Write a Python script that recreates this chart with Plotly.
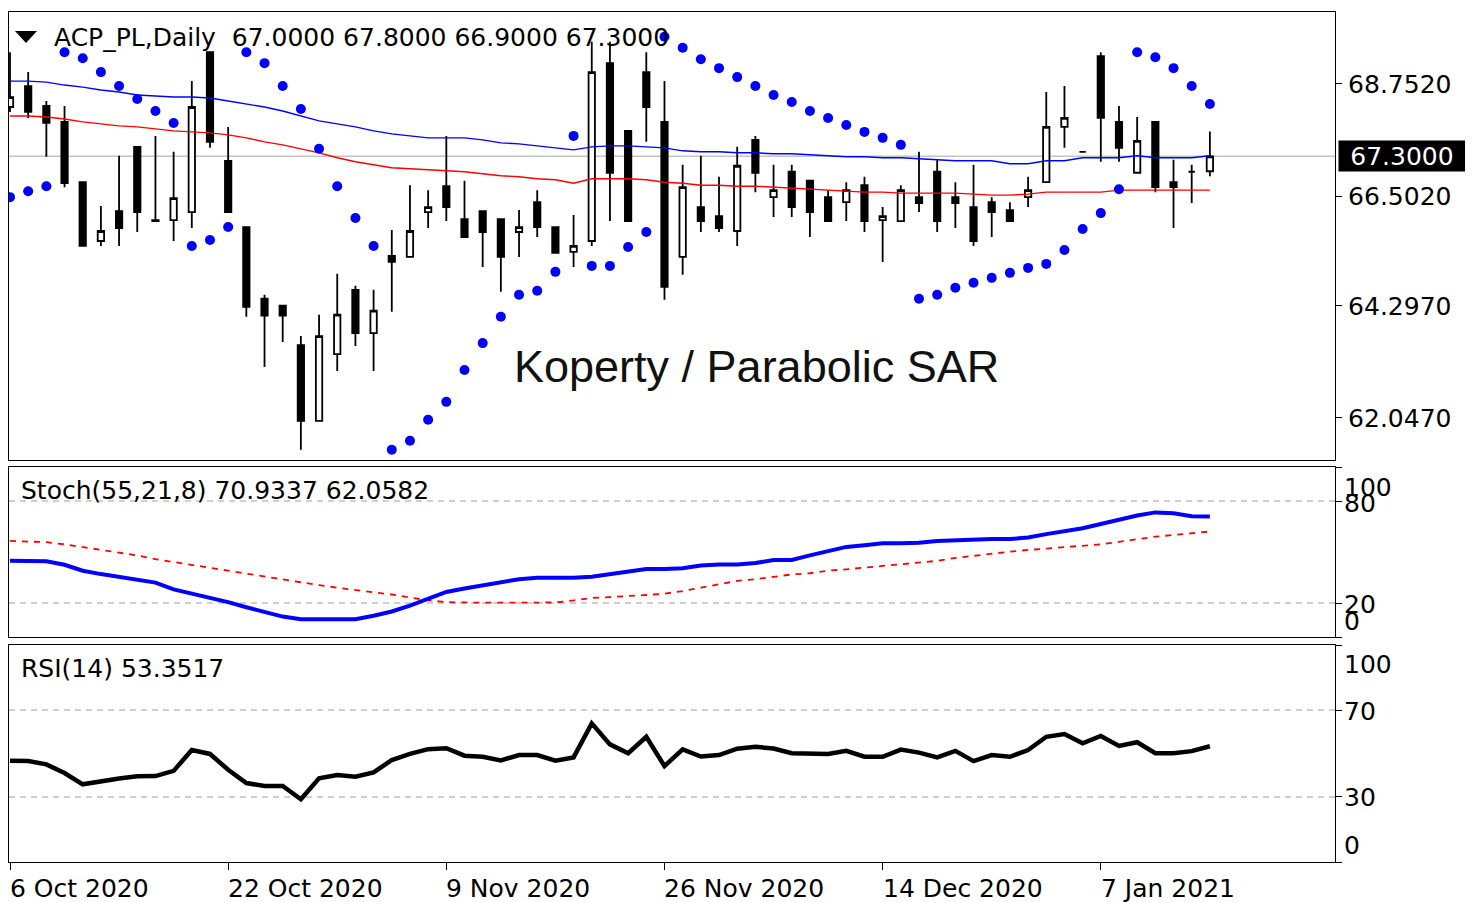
import plotly.graph_objects as go

# ---------------- data ----------------
opens = [68.29, 68.71, 68.31, 67.99, 66.78, 65.60, 66.20, 67.49, 66.02, 66.02,
         66.18, 69.39, 67.21, 65.88, 64.44, 64.30, 63.51, 61.99, 63.33, 64.62,
         63.75, 65.30, 65.28, 66.18, 66.70, 66.04, 66.20, 66.04, 65.78, 66.38,
         65.88, 65.38, 65.60, 69.17, 67.81, 68.99, 67.99, 65.28, 66.28, 66.10,
         65.80, 67.63, 66.48, 66.99, 66.81, 66.48, 66.38, 66.72, 66.02, 66.00,
         66.48, 66.99, 66.48, 66.28, 66.38, 66.22, 66.48, 66.78, 67.89, 67.39,
         69.31, 67.99, 66.97, 67.99, 66.78, 66.99, 67.00]
highs = [69.39, 68.99, 68.41, 68.31, 66.80, 66.30, 67.31, 67.49, 67.71, 67.39,
         68.81, 69.40, 67.89, 65.89, 64.52, 64.30, 63.69, 64.12, 64.94, 64.70,
         64.62, 65.82, 66.72, 66.62, 67.71, 66.81, 66.21, 66.05, 66.22, 66.62,
         65.89, 66.12, 69.60, 69.60, 67.81, 69.39, 68.81, 67.13, 67.31, 66.89,
         67.49, 67.71, 67.13, 67.13, 66.81, 66.62, 66.78, 66.89, 66.28, 66.72,
         67.39, 67.23, 66.78, 67.13, 66.48, 66.38, 66.89, 68.59, 68.71, 67.40,
         69.39, 68.31, 68.09, 67.99, 67.23, 67.13, 67.80]
lows = [68.19, 68.07, 67.29, 66.68, 65.49, 65.50, 65.50, 65.78, 66.00, 65.60,
        65.86, 67.47, 66.18, 64.08, 63.07, 63.57, 61.41, 61.98, 62.99, 63.49,
        62.99, 64.18, 65.27, 65.86, 66.00, 65.67, 65.08, 64.58, 65.28, 65.68,
        65.35, 65.08, 65.50, 66.00, 66.00, 67.59, 64.42, 64.92, 65.78, 65.78,
        65.50, 66.58, 66.08, 66.08, 65.68, 66.00, 66.00, 65.78, 65.18, 66.00,
        66.18, 65.78, 65.86, 65.50, 65.68, 66.00, 66.28, 66.78, 67.47, 67.38,
        67.19, 67.19, 66.96, 66.58, 65.86, 66.36, 66.90]
closes = [68.49, 68.19, 67.97, 66.76, 65.50, 65.80, 65.86, 66.18, 66.00, 66.46,
          68.29, 67.59, 66.18, 64.28, 64.10, 64.10, 61.99, 63.69, 64.12, 63.75,
          64.20, 65.18, 65.80, 66.28, 66.28, 65.68, 65.78, 65.28, 65.88, 65.88,
          65.36, 65.50, 68.99, 66.97, 66.00, 68.29, 64.68, 66.68, 66.00, 65.86,
          67.11, 66.97, 66.62, 66.28, 66.18, 66.00, 66.62, 66.00, 66.10, 66.62,
          66.36, 66.00, 66.36, 65.60, 66.18, 66.00, 66.62, 67.89, 68.07, 67.39,
          68.07, 67.47, 67.61, 66.68, 66.68, 66.99, 67.30]
sar = [66.48, 66.60, 66.70, 69.39, 69.27, 68.99, 68.71, 68.45, 68.21, 67.97,
       65.50, 65.62, 65.88, 69.39, 69.17, 68.71, 68.25, 67.45, 66.70, 66.06,
       65.50, 61.41, 61.59, 62.01, 62.37, 63.01, 63.55, 64.08, 64.52, 64.60,
       64.98, 67.71, 65.10, 65.10, 65.48, 65.78, 69.70, 69.48, 69.25, 69.07,
       68.89, 68.71, 68.53, 68.39, 68.21, 68.07, 67.93, 67.79, 67.67, 67.53,
       64.44, 64.52, 64.66, 64.76, 64.86, 64.96, 65.06, 65.14, 65.42, 65.84,
       66.16, 66.64, 69.39, 69.29, 69.07, 68.71, 68.35]
ma_blue = [68.81, 68.81, 68.79, 68.73, 68.69, 68.63, 68.59, 68.53, 68.51, 68.49,
           68.49, 68.47, 68.41, 68.35, 68.29, 68.21, 68.11, 68.01, 67.95, 67.89,
           67.81, 67.75, 67.71, 67.67, 67.67, 67.67, 67.63, 67.57, 67.55, 67.51,
           67.47, 67.43, 67.49, 67.51, 67.51, 67.49, 67.47, 67.41, 67.39, 67.39,
           67.37, 67.37, 67.35, 67.35, 67.33, 67.31, 67.29, 67.29, 67.27, 67.27,
           67.25, 67.23, 67.21, 67.21, 67.21, 67.15, 67.15, 67.21, 67.21, 67.27,
           67.27, 67.27, 67.31, 67.27, 67.27, 67.27, 67.31]
ma_red = [68.11, 68.11, 68.09, 68.05, 67.99, 67.95, 67.91, 67.89, 67.85, 67.81,
          67.79, 67.77, 67.73, 67.67, 67.59, 67.53, 67.45, 67.37, 67.27, 67.19,
          67.13, 67.07, 67.05, 67.03, 67.01, 66.99, 66.95, 66.91, 66.89, 66.85,
          66.83, 66.76, 66.85, 66.85, 66.85, 66.83, 66.78, 66.76, 66.72, 66.72,
          66.70, 66.70, 66.68, 66.66, 66.64, 66.62, 66.60, 66.58, 66.58, 66.56,
          66.56, 66.56, 66.56, 66.54, 66.52, 66.52, 66.54, 66.58, 66.58, 66.58,
          66.58, 66.62, 66.62, 66.62, 66.62, 66.62, 66.62]
stoch_main = [44.9, 44.9, 44.5, 42.5, 39.0, 37.0, 35.5, 34.0, 32.0, 28.0,
              25.5, 23.5, 20.5, 17.5, 14.5, 12.0, 10.4, 10.4, 10.4, 10.4,
              12.5, 15.0, 18.5, 22.5, 26.5, 28.5, 30.5, 32.0, 34.0, 34.9,
              34.9, 34.9, 35.5, 37.0, 38.5, 40.0, 40.0, 40.5, 42.0, 42.7,
              42.7, 43.5, 45.3, 45.3, 48.0, 50.5, 53.0, 54.0, 55.1, 55.1,
              55.5, 56.5, 57.0, 57.6, 57.6, 57.6, 58.5, 60.5, 62.3, 64.0,
              66.5, 69.0, 71.5, 73.3, 72.8, 71.0, 70.9337]
stoch_signal = [56.5, 56.3, 55.8, 54.5, 52.8, 51.0, 49.5, 48.0, 45.8, 44.0,
                42.3, 40.5, 39.0, 37.3, 35.5, 33.8, 32.0, 30.5, 29.0, 27.7,
                26.3, 25.0, 23.2, 21.6, 20.5, 20.2, 20.2, 20.2, 20.2, 20.2,
                20.3, 21.5, 23.0, 23.5, 24.0, 24.7, 25.5, 27.0, 29.0, 31.0,
                33.0, 34.0, 35.5, 36.8, 37.5, 39.0, 39.8, 41.0, 41.8, 42.8,
                43.7, 44.8, 46.5, 47.8, 49.0, 50.2, 51.2, 52.0, 52.6, 53.5,
                54.5, 56.0, 57.5, 59.0, 60.0, 61.0, 62.0582]
rsi = [46.7, 46.5, 45.0, 41.0, 35.8, 37.3, 38.5, 39.5, 39.6, 42.0,
       51.6, 49.8, 42.5, 36.4, 35.0, 35.0, 28.9, 38.6, 40.1, 39.3,
       41.3, 47.0, 49.8, 52.0, 52.4, 49.0, 48.5, 46.8, 49.3, 49.3,
       46.7, 48.2, 63.9, 54.2, 50.1, 57.7, 44.2, 51.9, 48.6, 49.3,
       52.2, 53.1, 52.3, 50.1, 49.8, 49.8, 51.2, 48.5, 48.5, 51.8,
       50.4, 48.2, 51.2, 46.5, 49.3, 48.5, 51.6, 57.7, 59.0, 54.7,
       58.1, 53.5, 55.2, 50.1, 50.1, 51.1, 53.3517]
bars = list(range(len(closes)))
date_tick_idx = [0, 12, 24, 36, 48, 60]
date_tick_labels = ["6 Oct 2020", "22 Oct 2020", "9 Nov 2020", "26 Nov 2020",
                    "14 Dec 2020", "7 Jan 2021"]
price_ticks = [62.047, 64.297, 66.502, 68.752]
price_tick_labels = ["62.0470", "64.2970", "66.5020", "68.7520"]
stoch_levels = [20, 80]
stoch_ticks = [0, 20, 80, 100]
rsi_levels = [30, 70]
rsi_ticks = [0, 30, 70, 100]
symbol_title = "ACP_PL,Daily  67.0000 67.8000 66.9000 67.3000"
stoch_title = "Stoch(55,21,8) 70.9337 62.0582"
rsi_title = "RSI(14) 53.3517"
chart_title = "Koperty / Parabolic SAR"
last_price = 67.30

# ---------------- geometry (page pixels -> paper) ----------------
# the page body has an 8px margin, so the figure is 8px smaller and shifted
OFF = 8
W, H = 1473 - OFF, 902 - OFF
ML, MR, MT, MB = 9 - OFF, 138, 12 - OFF, 40
PW, PH = W - ML - MR, H - MT - MB
PLOT_L, PLOT_B = OFF + ML, OFF + H - MB   # page pixel of plot left / bottom


def px(xp):
    return (xp - PLOT_L) / PW


def py(yp):
    return (PLOT_B - yp) / PH


FONT = "DejaVu Sans"
fig = go.Figure()

fig.add_trace(go.Candlestick(
    x=bars, open=opens, high=highs, low=lows, close=closes,
    increasing=dict(line=dict(color="black", width=1.8), fillcolor="white"),
    decreasing=dict(line=dict(color="black", width=1.8), fillcolor="black"),
    whiskerwidth=0, xaxis="x", yaxis="y", hoverinfo="skip"))
fig.add_trace(go.Scatter(x=bars, y=ma_blue, mode="lines",
                         line=dict(color="#0000ff", width=1.4), xaxis="x", yaxis="y"))
fig.add_trace(go.Scatter(x=bars, y=ma_red, mode="lines",
                         line=dict(color="#ff0000", width=1.4), xaxis="x", yaxis="y"))
fig.add_trace(go.Scatter(x=bars, y=sar, mode="markers",
                         marker=dict(color="#0000ff", size=10, symbol="circle"),
                         xaxis="x", yaxis="y"))

fig.add_trace(go.Scatter(x=bars, y=stoch_signal, mode="lines",
                         line=dict(color="#ff0000", width=1.8, dash="6px,6px"),
                         xaxis="x2", yaxis="y2"))
fig.add_trace(go.Scatter(x=bars, y=stoch_main, mode="lines",
                         line=dict(color="#0000ff", width=4), xaxis="x2", yaxis="y2"))
fig.add_trace(go.Scatter(x=bars, y=rsi, mode="lines",
                         line=dict(color="black", width=4.5), xaxis="x3", yaxis="y3"))

BAR0, STEP = 10, 18.18   # page pixel of first bar, pixels per bar
xr = [(PLOT_L - BAR0) / STEP, (PLOT_L + PW - BAR0) / STEP]
axis_common = dict(showline=True, mirror=True, linecolor="black", linewidth=1.2,
                   showgrid=False, zeroline=False)

shapes = []
shapes.append(dict(type="line", xref="x domain", yref="y", x0=0, x1=1,
                   y0=last_price, y1=last_price, line=dict(color="#c4c4c4", width=1.5),
                   layer="below"))
for lv in stoch_levels:
    shapes.append(dict(type="line", xref="x2 domain", yref="y2", x0=0, x1=1, y0=lv, y1=lv,
                       line=dict(color="#c0c0c0", width=1.5, dash="6px,5px"), layer="below"))
for lv in rsi_levels:
    shapes.append(dict(type="line", xref="x3 domain", yref="y3", x0=0, x1=1, y0=lv, y1=lv,
                       line=dict(color="#c0c0c0", width=1.5, dash="6px,5px"), layer="below"))
# small drop-down triangle
shapes.append(dict(type="path", xref="paper", yref="paper",
                   path=f"M {px(15)} {py(31)} L {px(37)} {py(31)} L {px(26)} {py(43)} Z",
                   fillcolor="black", line=dict(width=0)))

annotations = []


def label(text, xp, yp, size=25, anchor="left", color="black", family=FONT, **kw):
    annotations.append(dict(text=text, xref="paper", yref="paper", x=px(xp), y=py(yp),
                            xanchor=anchor, yanchor="middle", showarrow=False,
                            font=dict(family=family, size=size, color=color), **kw))


label(symbol_title, 52, 37)
label(stoch_title, 19, 491)
label(rsi_title, 19, 668)
label(chart_title, 512, 366, size=45, family="Liberation Sans", color="#111111")
for t, yp in zip(["100", "80", "20", "0"], [487, 503, 604, 621]):
    label(t, 1342, yp)
for t, yp in zip(["100", "70", "30", "0"], [664, 711, 797, 845]):
    label(t, 1342, yp)
label(f"{last_price:.4f}", 1338, 156, color="white", bgcolor="black",
      width=122, height=26, align="center", borderpad=2)
for i, t in zip(date_tick_idx, date_tick_labels):
    annotations.append(dict(text=t, xref="x3", yref="paper", x=i, y=py(888),
                            xanchor="left", yanchor="middle", showarrow=False,
                            xshift=-2, font=dict(family=FONT, size=25, color="black")))

fig.update_layout(
    width=W, height=H, margin=dict(l=ML, r=MR, t=MT, b=MB),
    paper_bgcolor="white", plot_bgcolor="white", showlegend=False,
    hovermode=False, boxgap=0.5,
    xaxis=dict(domain=[0, 1], anchor="y", range=xr, showticklabels=False,
               rangeslider=dict(visible=False), ticks="", **axis_common),
    xaxis2=dict(domain=[0, 1], anchor="y2", matches="x", showticklabels=False,
                ticks="", **axis_common),
    xaxis3=dict(domain=[0, 1], anchor="y3", matches="x", showticklabels=False,
                tickmode="array", tickvals=date_tick_idx, ticks="outside", ticklen=7,
                tickcolor="black", tickwidth=1.2, **axis_common),
    yaxis=dict(domain=[py(460), 1], anchor="x", range=[61.203, 70.197], side="right",
               tickmode="array", tickvals=price_ticks, ticktext=price_tick_labels,
               ticks="outside", ticklen=6, tickcolor="black", tickwidth=1.2,
               ticklabelstandoff=1,
               tickfont=dict(family=FONT, size=25, color="black"), **axis_common),
    yaxis2=dict(domain=[py(637), py(467)], anchor="x2", range=[0, 100], side="right",
                tickmode="array", tickvals=stoch_ticks, ticks="outside", ticklen=6,
                tickcolor="black", showticklabels=False, **axis_common),
    yaxis3=dict(domain=[0, py(645)], anchor="x3", range=[0, 100], side="right",
                tickmode="array", tickvals=rsi_ticks, ticks="outside", ticklen=6,
                tickcolor="black", showticklabels=False, **axis_common),
    shapes=shapes, annotations=annotations,
)

fig.write_html("out.html")
